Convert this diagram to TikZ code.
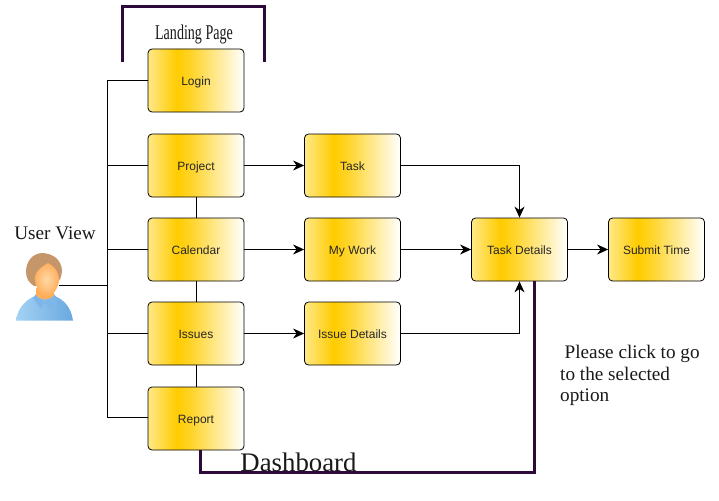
\documentclass[tikz,border=0pt]{standalone}
\usepackage{fontspec}
\setmainfont{Liberation Serif}
\newfontfamily\boxfont{Liberation Sans}
\usetikzlibrary{arrows.meta}
\definecolor{gold}{HTML}{FFCC00}
\definecolor{goldlight}{HTML}{FFE888}
\definecolor{plum}{HTML}{2E0A3A}
\definecolor{hairc}{HTML}{C4966A}
\definecolor{skinin}{HTML}{FFD9A8}
\definecolor{skinout}{HTML}{FFAE5C}
\definecolor{shirtl}{HTML}{A4D2F4}
\definecolor{shirtd}{HTML}{6AA8E0}
\definecolor{collar}{HTML}{7DB6E8}
\pgfdeclarehorizontalshading{boxgrad}{100bp}{color(0bp)=(goldlight); color(25bp)=(goldlight); color(40bp)=(gold); color(47bp)=(gold!85!white); color(75bp)=(white); color(100bp)=(white)}
\tikzset{
  flowbox/.style={draw=black,line width=0.8pt,rounded corners=4pt,shading=boxgrad,minimum width=96pt,minimum height=63pt,inner sep=0pt,text height=9pt,text depth=0pt,font=\boxfont\fontsize{12}{13}\selectfont,text=black!85},
  wire/.style={draw=black,line width=0.9pt},
  arrowwire/.style={wire,-{Stealth[length=11pt,width=10pt,inset=3.5pt]}},
  thick plum/.style={draw=plum,line width=3pt},
  serif label/.style={inner sep=0pt,text=black!90}
}
\begin{document}
\begin{tikzpicture}[x=1pt,y=-1pt]
\useasboundingbox (0,0) rectangle (719,500);
% purple outlines
\coordinate (lp1) at (122.5,62);
\coordinate (lp2) at (122.5,7);
\coordinate (lp3) at (264.5,7);
\coordinate (lp4) at (264.5,62);
\draw[thick plum,line join=miter] (lp1) -- (lp2) -- (lp3) -- (lp4);
% boxes
\node[flowbox] (login) at (196,80.5) {Login};
\node[flowbox] (project) at (196,165.5) {Project};
\node[flowbox] (calendar) at (196,249.5) {Calendar};
\node[flowbox] (issues) at (196,333.5) {Issues};
\node[flowbox] (report) at (196,418.5) {Report};
\node[flowbox] (task) at (352.5,165.5) {Task};
\node[flowbox] (mywork) at (352.5,249.5) {My Work};
\node[flowbox] (issuedet) at (352.5,333.5) {Issue Details};
\node[flowbox] (details) at (519.5,249.5) {Task Details};
\node[flowbox] (submit) at (656.5,249.5) {Submit Time};
% person
\coordinate (personc) at (59,285.5);
\coordinate (spinetop) at (107.5,80.5);
\coordinate (spinebot) at (107.5,417.5);
\coordinate (spinemid) at (107.5,285.5);
\begin{scope}
  \shade[left color=shirtl,right color=shirtd]
    (16,320.5) .. controls (18,307) and (26,300) .. (35,296) -- (55,296) .. controls (64,300) and (71,307) .. (73,320.5) -- cycle;
  \fill[collar] (33,298) -- (36,294) -- (45,302) -- (41,309) -- cycle;
  \fill[collar] (57,298) -- (54,294) -- (45,302) -- (49,309) -- cycle;
  \fill[skinout] (36,288) -- (54,288) -- (54,295) .. controls (50,301) and (40,301) .. (36,295) -- cycle;
  \fill[hairc] (43,253) .. controls (32,253) and (26,262) .. (26,272) .. controls (26,278) and (29,283) .. (34,286) -- (56,284) .. controls (60,281) and (62,276) .. (62,270) .. controls (61,260) and (54,254) .. (43,253) -- cycle;
  \shade[inner color=skinin,outer color=skinout]
    (48,263) .. controls (40,268) and (34,272) .. (35,280) .. controls (36,289) and (41,296) .. (47,296) .. controls (53,296) and (59,288) .. (59,279) .. controls (59,272) and (54,266) .. (48,263) -- cycle;
\end{scope}
% connectors
\draw[wire] (spinetop) -- (spinebot);
\draw[wire] (login.west) -- (spinetop);
\draw[wire] (project.west) -- (project.west -| spinetop);
\draw[wire] (calendar.west) -- (calendar.west -| spinetop);
\draw[wire] (issues.west) -- (issues.west -| spinetop);
\draw[wire] (report.west |- spinebot) -- (spinebot);
\draw[wire] (personc) -- (spinemid);
\draw[wire] (project) -- (calendar);
\draw[wire] (calendar) -- (issues);
\draw[wire] (issues) -- (report);
\draw[arrowwire] (project) -- (task);
\draw[arrowwire] (calendar) -- (mywork);
\draw[arrowwire] (issues) -- (issuedet);
\draw[arrowwire] (mywork) -- (details);
\draw[arrowwire] (details) -- (submit);
\draw[arrowwire] (task.east) -| (details.north);
\draw[arrowwire] (issuedet.east) -| (details.south);
\coordinate (dash1) at (200.5,472.5);
\coordinate (dash2) at (534.5,472.5);
\draw[thick plum,line join=miter] (report.south -| dash1) -- (dash1) -- (dash2) -- (details.south -| dash2);
% labels
\node[serif label,font=\fontsize{19.2}{21}\selectfont] (userview) at (55,233) {User View};
\node[serif label,font=\fontsize{21}{24}\selectfont,xscale=0.67] (landing) at (194,34) {Landing Page};
\node[serif label,font=\fontsize{26.8}{28}\selectfont] (dashlabel) at (298.5,462) {Dashboard};
\node[serif label,font=\fontsize{19.2}{21.5}\selectfont,align=left,anchor=north west] (hint) at (560,345) {\hspace*{4.5pt}Please click to go\\to the selected\\option};
\end{tikzpicture}
\end{document}
